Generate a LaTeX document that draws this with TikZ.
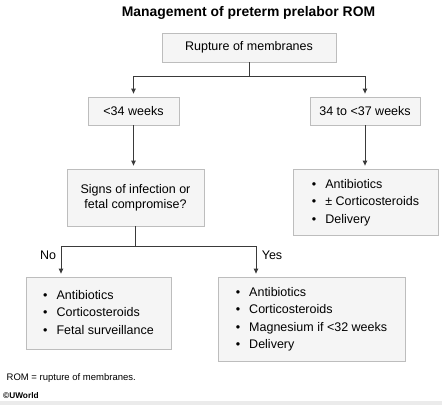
\documentclass[tikz,border=0pt]{standalone}
\usepackage{fontspec}
\setmainfont{Liberation Sans}
\usetikzlibrary{arrows.meta,shadows}
\definecolor{boxfill}{HTML}{F5F5F5}
\definecolor{boxline}{HTML}{BDBDBD}
\definecolor{lineclr}{HTML}{3A3A3A}
\newcommand{\bl}{\textbullet}
\begin{document}
\begin{tikzpicture}[x=1pt,y=-1pt,
  box/.style={draw=boxline, fill=boxfill, line width=0.8pt, inner sep=0pt,
    drop shadow={shadow xshift=1.3pt, shadow yshift=-1.3pt, fill=black!40, opacity=0.7},
    font=\fontsize{12.5}{17.5}\selectfont, align=center},
  conn/.style={draw=lineclr, line width=0.9pt},
  arr/.style={conn, -{Triangle[width=4.5pt,length=5pt]}, shorten >=3pt},
  lbl/.style={font=\fontsize{12.5}{15}\selectfont, inner sep=0pt}]
\useasboundingbox (0,0) rectangle (442,405);
\fill[white] (0,0) rectangle (442,405);
\fill[black!8] (0,401) rectangle (442,405);

\node[inner sep=0pt, font=\fontsize{13.9}{16}\selectfont\bfseries] (title) at (248.5,12.5) {Management of preterm prelabor ROM};

\node[box, minimum width=174pt, minimum height=29pt] (rom) at (249,47.5) {Rupture of membranes};
\node[box, minimum width=91pt, minimum height=28pt] (lt) at (133.5,111) {<34 weeks};
\node[box, minimum width=110pt, minimum height=28pt] (rt) at (365,111) {34 to <37 weeks};
\node[box, minimum width=137pt, minimum height=57pt, font=\fontsize{12.5}{15}\selectfont] (signs) at (135.5,197.5) {Signs of infection or\\fetal compromise?};
\node[box, minimum width=145pt, minimum height=66pt] (rmid) at (365.5,202) {\begin{tabular}{@{}l@{\hspace{9pt}}l@{}}\bl & Antibiotics\\ \bl & ± Corticosteroids\\ \bl & Delivery\end{tabular}};
\node[box, minimum width=145pt, minimum height=72pt] (lb) at (98.5,313) {\begin{tabular}{@{}l@{\hspace{9pt}}l@{}}\bl & Antibiotics\\ \bl & Corticosteroids\\ \bl & Fetal surveillance\end{tabular}};
\node[box, minimum width=187pt, minimum height=84pt] (rb) at (311.5,319) {\begin{tabular}{@{}l@{\hspace{9pt}}l@{}}\bl & Antibiotics\\ \bl & Corticosteroids\\ \bl & Magnesium if <32 weeks\\ \bl & Delivery\end{tabular}};

\coordinate (j1) at (249,76);
\coordinate (j2) at (135.5,246);
\coordinate (jno) at (61,246);
\coordinate (jyes) at (256,246);

\draw[conn] (rom.south) -- (j1);
\draw[arr] (j1) -| (lt.north);
\draw[arr] (j1) -| (rt.north);
\draw[arr] (lt.south) -- (lt.south |- signs.north);
\draw[arr] (rt.south) -- (rt.south |- rmid.north);
\draw[conn] (signs.south) -- (j2);
\draw[conn] (jno) -- (jyes);
\draw[arr] (jno) -- (jno |- lb.north);
\draw[arr] (jyes) -- (jyes |- rb.north);

\node[lbl] (no) at (48,255) {No};
\node[lbl] (yes) at (272,255) {Yes};

\node[anchor=west, inner sep=0pt, font=\fontsize{9.5}{11}\selectfont] (foot) at (6.5,378) {ROM = rupture of membranes.};
\node[anchor=west, inner sep=0pt, font=\fontsize{8.3}{10}\selectfont\bfseries] (cr) at (3,396) {©UWorld};
\end{tikzpicture}
\end{document}
